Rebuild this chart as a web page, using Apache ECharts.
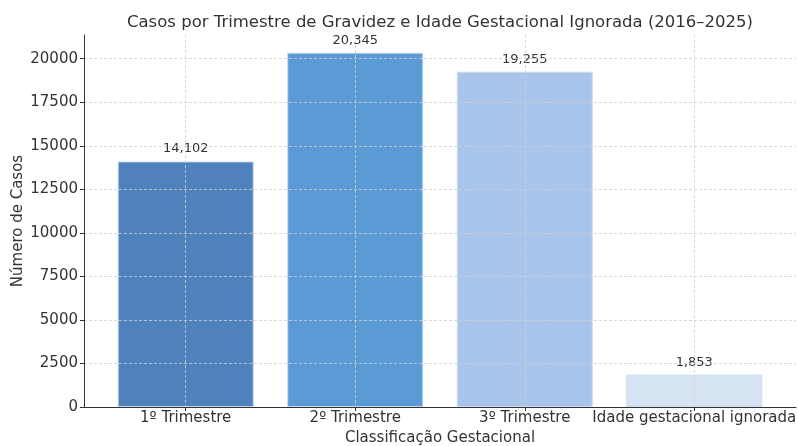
<!DOCTYPE html>
<html>
<head>
<meta charset="utf-8">
<script src="https://cdn.jsdelivr.net/npm/echarts@6/dist/echarts.min.js"></script>
<style>
  html, body { margin: 0; padding: 0; background: #fff; }
  #chart { width: 798px; height: 446px; }
</style>
</head>
<body>
<div id="chart"></div>
<script>
const categories = ['1º Trimestre', '2º Trimestre', '3º Trimestre', 'Idade gestacional ignorada'];
const casos = [14102, 20345, 19255, 1853];
const barColors = ['#4f81bd', '#5b9bd5', '#a9c4eb', '#d6e3f3'];
const yTicks = [0, 2500, 5000, 7500, 10000, 12500, 15000, 17500, 20000];
const xPositions = [0, 1, 2, 3];

const fontFamily = 'DejaVu Sans';
const textColor = '#333';

const chart = echarts.init(document.querySelector('#chart'), null, { renderer: 'canvas' });

const option = {
    animation: false,
    title: {
        text: 'Casos por Trimestre de Gravidez e Idade Gestacional Ignorada (2016–2025)',
        left: 435,
        textAlign: 'center',
        top: 9,
        textStyle: { fontFamily, fontSize: 16.5, fontWeight: 'normal', color: textColor }
    },
    grid: { left: 84, right: 2, top: 35, bottom: 39, containLabel: false, outerBoundsMode: 'none' },
    xAxis: {
        type: 'value',
        min: -0.6,
        max: 3.6,
        z: 3,
        name: 'Classificação Gestacional',
        nameLocation: 'center',
        nameGap: 24,
        nameMoveOverlap: false,
        nameTextStyle: { fontFamily, fontSize: 15, color: textColor },
        axisLine: { onZero: false, lineStyle: { color: '#333', width: 1 } },
        axisTick: { show: true, length: 4, customValues: xPositions, lineStyle: { color: '#333' } },
        axisLabel: {
            customValues: xPositions,
            margin: 4,
            fontFamily, fontSize: 15, color: textColor,
            formatter: v => categories[Math.round(v)]
        },
        splitLine: { show: true, lineStyle: { color: '#d0d0d0', type: [3, 2], width: 0.8 } }
    },
    yAxis: {
        type: 'value',
        min: 0,
        max: 21362,
        z: 3,
        name: 'Número de Casos',
        nameLocation: 'center',
        nameGap: 58,
        nameMoveOverlap: false,
        nameTextStyle: { fontFamily, fontSize: 15, color: textColor },
        axisLine: { show: true, onZero: false, lineStyle: { color: '#333', width: 1 } },
        axisTick: { show: true, length: 4, customValues: yTicks, lineStyle: { color: '#333' } },
        axisLabel: {
            customValues: yTicks,
            margin: 6,
            fontFamily, fontSize: 15, color: textColor,
            formatter: v => String(v)
        },
        splitLine: { show: true, lineStyle: { color: '#d0d0d0', type: [3, 2], width: 0.8 } }
    },
    series: [{
        type: 'bar',
        barWidth: 136,
        data: casos.map((v, i) => ({
            value: [xPositions[i], v],
            itemStyle: { color: barColors[i], borderColor: 'rgba(200,220,240,0.9)', borderWidth: 1 }
        })),
        label: {
            show: true,
            position: 'top',
            distance: 6,
            fontFamily, fontSize: 13, color: textColor,
            formatter: p => p.value[1].toLocaleString('en-US')
        }
    }]
};

chart.setOption(option);
</script>
</body>
</html>
